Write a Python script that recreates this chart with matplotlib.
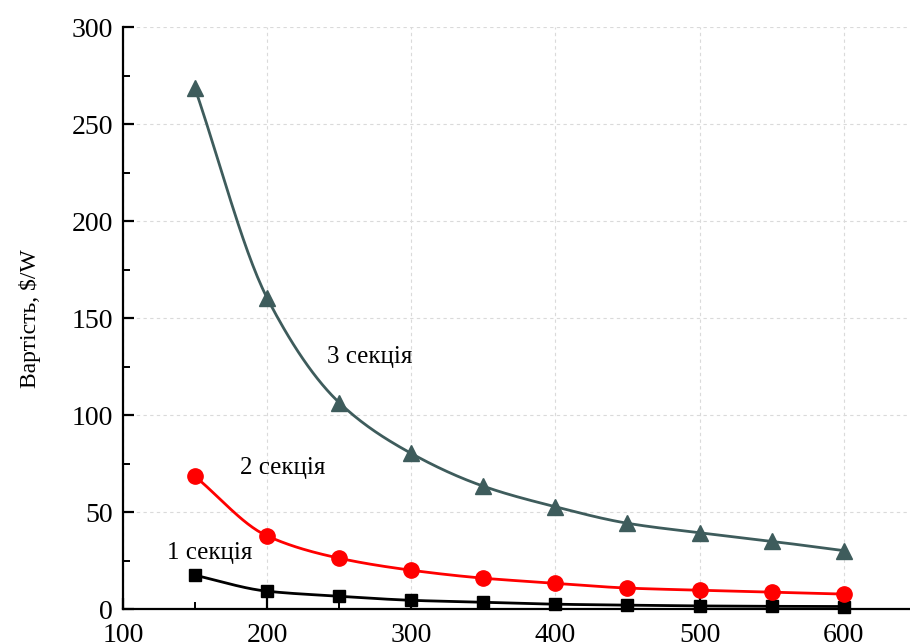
import matplotlib
matplotlib.use("Agg")
import matplotlib.pyplot as plt
import numpy as np
from matplotlib.ticker import MultipleLocator

plt.rcParams['font.family'] = ['Liberation Serif', 'DejaVu Serif']

# data
power = [150, 200, 250, 300, 350, 400, 450, 500, 550, 600]
cost_1 = [17.5, 9.3, 6.7, 4.6, 3.6, 2.6, 2.1, 1.7, 1.5, 1.4]
cost_2 = [68.5, 37.8, 26.3, 20.1, 16.0, 13.4, 10.9, 9.8, 8.8, 7.8]
cost_3 = [268.5, 160.5, 106.5, 80.3, 63.4, 52.8, 44.3, 39.4, 35.0, 30.2]
labels = ['1 секція', '2 секція', '3 секція']


# smooth curve through the points (monotone cubic, like Origin's spline line)
def smooth(x, y, n=30):
    x = np.asarray(x, float)
    y = np.asarray(y, float)
    h = np.diff(x)
    d = np.diff(y) / h
    m = np.zeros_like(y)
    m[0], m[-1] = d[0], d[-1]
    for i in range(1, len(y) - 1):
        if d[i - 1] * d[i] > 0:
            w1 = 2 * h[i] + h[i - 1]
            w2 = h[i] + 2 * h[i - 1]
            m[i] = (w1 + w2) / (w1 / d[i - 1] + w2 / d[i])
    xs, ys = [], []
    for i in range(len(x) - 1):
        t = np.linspace(0, 1, n, endpoint=False)
        h00 = 2 * t**3 - 3 * t**2 + 1
        h10 = t**3 - 2 * t**2 + t
        h01 = -2 * t**3 + 3 * t**2
        h11 = t**3 - t**2
        xs.append(x[i] + t * h[i])
        ys.append(h00 * y[i] + h10 * h[i] * m[i] + h01 * y[i + 1] + h11 * h[i] * m[i + 1])
    xs.append([x[-1]])
    ys.append([y[-1]])
    return np.concatenate(xs), np.concatenate(ys)


fig = plt.figure(figsize=(9.1, 6.44), dpi=100)
ax = fig.add_axes([0.135, 0.054, 0.865, 0.904])

series = [
    (cost_1, 'black', 's', 9),
    (cost_2, '#ff0000', 'o', 11),
    (cost_3, '#3e5c5c', '^', 11),
]
for vals, col, mk, ms in series:
    sx, sy = smooth(power, vals)
    ax.plot(sx, sy, color=col, lw=2.0, zorder=3)
    ax.plot(power, vals, ls='none', marker=mk, ms=ms, color=col, zorder=4, clip_on=False)

ax.text(160, 29, labels[0], fontsize=18, ha='center', va='center')
ax.text(211, 73, labels[1], fontsize=18, ha='center', va='center')
ax.text(271, 130, labels[2], fontsize=18, ha='center', va='center')

ax.set_xlim(100, 646)
ax.set_ylim(0, 300)
ax.xaxis.set_major_locator(MultipleLocator(100))
ax.xaxis.set_minor_locator(MultipleLocator(50))
ax.yaxis.set_major_locator(MultipleLocator(50))
ax.yaxis.set_minor_locator(MultipleLocator(25))
ax.set_xticks([100, 200, 300, 400, 500, 600])

ax.spines['top'].set_visible(False)
ax.spines['right'].set_visible(False)
ax.spines['left'].set_linewidth(1.6)
ax.spines['bottom'].set_linewidth(1.6)
ax.tick_params(which='major', direction='in', length=8, width=1.6, labelsize=20)
ax.tick_params(axis='y', which='major', pad=7)
ax.tick_params(axis='x', which='major', pad=10)
ax.tick_params(which='minor', direction='in', length=5, width=1.4)

ax.grid(True, which='major', ls=(0, (3, 3)), color='#dadada', lw=0.8)
ax.set_axisbelow(True)

ax.set_ylabel('Вартість, $/W', fontsize=17, labelpad=22)

plt.savefig('out.png', dpi=100)
